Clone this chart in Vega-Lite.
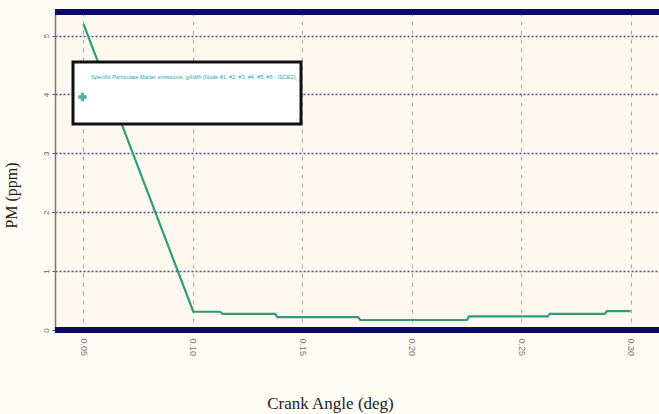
{
  "$schema": "https://vega.github.io/schema/vega-lite/v6.json",
  "width": 604,
  "height": 318,
  "autosize": {"type": "none"},
  "padding": {"left": 55, "top": 12, "right": 0, "bottom": 84},
  "background": "#fefcf5",
  "config": {
    "view": {"fill": "#fdf9ee", "stroke": null},
    "font": "Liberation Sans"
  },
  "data": {
    "values": [
      {"i": 0, "angle": 0.05, "pm": 5.2, "series": "Specific Particulate Matter emissions, g/kWh (Node #1, #2, #3, #4, #5, #6 - ISCE3)"},
      {"i": 1, "angle": 0.1002, "pm": 0.31, "series": "Specific Particulate Matter emissions, g/kWh (Node #1, #2, #3, #4, #5, #6 - ISCE3)"},
      {"i": 2, "angle": 0.1125, "pm": 0.31, "series": "Specific Particulate Matter emissions, g/kWh (Node #1, #2, #3, #4, #5, #6 - ISCE3)"},
      {"i": 3, "angle": 0.1135, "pm": 0.275, "series": "Specific Particulate Matter emissions, g/kWh (Node #1, #2, #3, #4, #5, #6 - ISCE3)"},
      {"i": 4, "angle": 0.1376, "pm": 0.275, "series": "Specific Particulate Matter emissions, g/kWh (Node #1, #2, #3, #4, #5, #6 - ISCE3)"},
      {"i": 5, "angle": 0.1386, "pm": 0.22, "series": "Specific Particulate Matter emissions, g/kWh (Node #1, #2, #3, #4, #5, #6 - ISCE3)"},
      {"i": 6, "angle": 0.1755, "pm": 0.22, "series": "Specific Particulate Matter emissions, g/kWh (Node #1, #2, #3, #4, #5, #6 - ISCE3)"},
      {"i": 7, "angle": 0.1765, "pm": 0.17, "series": "Specific Particulate Matter emissions, g/kWh (Node #1, #2, #3, #4, #5, #6 - ISCE3)"},
      {"i": 8, "angle": 0.2252, "pm": 0.17, "series": "Specific Particulate Matter emissions, g/kWh (Node #1, #2, #3, #4, #5, #6 - ISCE3)"},
      {"i": 9, "angle": 0.2262, "pm": 0.23, "series": "Specific Particulate Matter emissions, g/kWh (Node #1, #2, #3, #4, #5, #6 - ISCE3)"},
      {"i": 10, "angle": 0.2621, "pm": 0.23, "series": "Specific Particulate Matter emissions, g/kWh (Node #1, #2, #3, #4, #5, #6 - ISCE3)"},
      {"i": 11, "angle": 0.2631, "pm": 0.275, "series": "Specific Particulate Matter emissions, g/kWh (Node #1, #2, #3, #4, #5, #6 - ISCE3)"},
      {"i": 12, "angle": 0.2882, "pm": 0.275, "series": "Specific Particulate Matter emissions, g/kWh (Node #1, #2, #3, #4, #5, #6 - ISCE3)"},
      {"i": 13, "angle": 0.2892, "pm": 0.32, "series": "Specific Particulate Matter emissions, g/kWh (Node #1, #2, #3, #4, #5, #6 - ISCE3)"},
      {"i": 14, "angle": 0.3, "pm": 0.32, "series": "Specific Particulate Matter emissions, g/kWh (Node #1, #2, #3, #4, #5, #6 - ISCE3)"}
    ]
  },
  "layer": [
    {
      "mark": {"type": "line", "strokeWidth": 2.2, "clip": true},
      "encoding": {
        "x": {
          "field": "angle", "type": "quantitative",
          "scale": {"domain": [0.037, 0.313], "nice": false, "zero": false},
          "axis": {
            "values": [0.05, 0.1, 0.15, 0.2, 0.25, 0.3],
            "format": ".2f",
            "title": "Crank Angle (deg)",
            "titleFont": "Liberation Serif",
            "titleFontSize": 17,
            "titleFontWeight": "normal",
            "titleColor": "#222222",
            "titleX": 275,
            "titleY": 82,
            "titleBaseline": "bottom",
            "labelAngle": 90,
            "labelAlign": "left",
            "labelBaseline": "middle",
            "labelFontSize": 9,
            "labelColor": "#777777",
            "labelPadding": 8,
            "domain": false,
            "ticks": false,
            "grid": true,
            "gridColor": "#a8a8a8",
            "gridDash": [4, 5],
            "gridWidth": 1
          }
        },
        "y": {
          "field": "pm", "type": "quantitative",
          "scale": {"domain": [0, 5.4], "nice": false},
          "axis": {
            "values": [0, 1, 2, 3, 4, 5],
            "format": "d",
            "title": "PM (ppm)",
            "titleFont": "Liberation Serif",
            "titleFontSize": 16,
            "titleFontWeight": "normal",
            "titleColor": "#222222",
            "titleX": -36,
            "titleY": 183,
            "labelAngle": -90,
            "labelAlign": "center",
            "labelBaseline": "bottom",
            "labelFontSize": 8,
            "labelColor": "#666666",
            "labelPadding": 2,
            "domain": true,
            "domainColor": "#777777",
            "domainWidth": 1.5,
            "tickColor": "#555555",
            "tickSize": 3,
            "grid": true,
            "gridColor": "#4a4a9a",
            "gridDash": [2, 2],
            "gridWidth": 1.6
          }
        },
        "order": {"field": "i", "type": "quantitative"},
        "color": {
          "field": "series", "type": "nominal",
          "scale": {"range": ["#2f9a7e"]},
          "legend": {
            "orient": "none",
            "legendX": 18,
            "legendY": 50,
            "title": null,
            "fillColor": "#ffffff",
            "strokeColor": "#111111",
            "padding": 5,
            "symbolType": "cross",
            "symbolSize": 70,
            "symbolFillColor": "#4fb0a0",
            "symbolStrokeColor": "#4fb0a0",
            "symbolStrokeWidth": 0,
            "labelFont": "Liberation Sans",
            "labelFontSize": 5.6,
            "labelColor": "#2aa8b0",
            "labelLimit": 300,
            "labelExpr": "split('|||' + datum.label + '|||', '|')",
            "labelLineHeight": 8.6,
            "encode": {
              "legend": {"update": {"strokeWidth": {"value": 3}}},
              "symbols": {"update": {"y": {"value": 30}}},
              "labels": {"update": {"y": {"value": 0}, "baseline": {"value": "top"}}}
            }
          }
        }
      }
    },
    {
      "mark": {"type": "rule", "color": "#0b0b6b", "strokeWidth": 5},
      "encoding": {"y": {"datum": 0}}
    },
    {
      "mark": {"type": "rule", "color": "#0b0b6b", "strokeWidth": 5},
      "encoding": {"y": {"datum": 5.4}}
    }
  ]
}
